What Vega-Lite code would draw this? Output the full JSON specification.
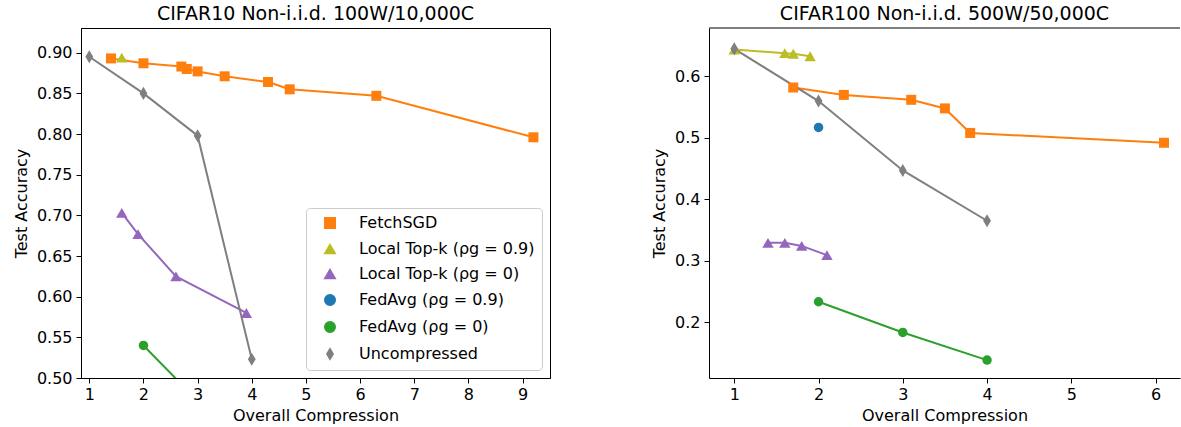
{
  "$schema": "https://vega.github.io/schema/vega-lite/v6.json",
  "background": "white",
  "padding": {"left": 12, "top": 4, "right": 0, "bottom": 0},
  "config": {
    "font": "DejaVu Sans",
    "view": {"stroke": "black", "strokeWidth": 1},
    "axis": {
      "grid": false, "domainColor": "black", "tickColor": "black", "labelColor": "black", "titleColor": "black",
      "labelFontSize": 16, "titleFontSize": 16, "titleFontWeight": "normal", "tickSize": 5,
      "labelFont": "DejaVu Sans", "titleFont": "DejaVu Sans"
    },
    "axisX": {"labelPadding": 3, "titlePadding": 5},
    "axisY": {"labelPadding": 4, "titlePadding": 7},
    "title": {"fontSize": 19, "fontWeight": "normal", "font": "DejaVu Sans", "color": "black", "offset": 4},
    "concat": {"spacing": 100},
    "legend": {"title": null, "orient": "bottom-right", "offset": 8, "padding": 7,
               "strokeColor": "#cccccc", "fillColor": "white", "cornerRadius": 4,
               "labelFontSize": 16, "labelFont": "DejaVu Sans", "labelColor": "black", "labelLimit": 400,
               "symbolSize": 110, "rowPadding": 9, "labelOffset": 21, "symbolOffset": 9}
  },
  "datasets": {
    "left": [
      {"series": "FetchSGD", "x": 1.4, "y": 0.893},
      {"series": "FetchSGD", "x": 2.0, "y": 0.887},
      {"series": "FetchSGD", "x": 2.7, "y": 0.883},
      {"series": "FetchSGD", "x": 2.8, "y": 0.880},
      {"series": "FetchSGD", "x": 3.0, "y": 0.877},
      {"series": "FetchSGD", "x": 3.5, "y": 0.871},
      {"series": "FetchSGD", "x": 4.3, "y": 0.864},
      {"series": "FetchSGD", "x": 4.7, "y": 0.855},
      {"series": "FetchSGD", "x": 6.3, "y": 0.847},
      {"series": "FetchSGD", "x": 9.2, "y": 0.796},
      {"series": "Local Top-k (ρg = 0.9)", "x": 1.6, "y": 0.894},
      {"series": "Local Top-k (ρg = 0)", "x": 1.6, "y": 0.703},
      {"series": "Local Top-k (ρg = 0)", "x": 1.9, "y": 0.677},
      {"series": "Local Top-k (ρg = 0)", "x": 2.6, "y": 0.625},
      {"series": "Local Top-k (ρg = 0)", "x": 3.9, "y": 0.580},
      {"series": "FedAvg (ρg = 0)", "x": 2.0, "y": 0.540},
      {"series": "FedAvg (ρg = 0)", "x": 3.0, "y": 0.472},
      {"series": "Uncompressed", "x": 1.0, "y": 0.895},
      {"series": "Uncompressed", "x": 2.0, "y": 0.850},
      {"series": "Uncompressed", "x": 3.0, "y": 0.798},
      {"series": "Uncompressed", "x": 4.0, "y": 0.523}
    ],
    "right": [
      {"series": "FetchSGD", "x": 1.7, "y": 0.582},
      {"series": "FetchSGD", "x": 2.3, "y": 0.570},
      {"series": "FetchSGD", "x": 3.1, "y": 0.562},
      {"series": "FetchSGD", "x": 3.5, "y": 0.548},
      {"series": "FetchSGD", "x": 3.8, "y": 0.508},
      {"series": "FetchSGD", "x": 6.1, "y": 0.492},
      {"series": "Local Top-k (ρg = 0.9)", "x": 1.0, "y": 0.644},
      {"series": "Local Top-k (ρg = 0.9)", "x": 1.6, "y": 0.638},
      {"series": "Local Top-k (ρg = 0.9)", "x": 1.7, "y": 0.637},
      {"series": "Local Top-k (ρg = 0.9)", "x": 1.9, "y": 0.633},
      {"series": "Local Top-k (ρg = 0)", "x": 1.4, "y": 0.329},
      {"series": "Local Top-k (ρg = 0)", "x": 1.6, "y": 0.329},
      {"series": "Local Top-k (ρg = 0)", "x": 1.8, "y": 0.324},
      {"series": "Local Top-k (ρg = 0)", "x": 2.1, "y": 0.309},
      {"series": "FedAvg (ρg = 0.9)", "x": 2.0, "y": 0.517},
      {"series": "FedAvg (ρg = 0)", "x": 2.0, "y": 0.233},
      {"series": "FedAvg (ρg = 0)", "x": 3.0, "y": 0.183},
      {"series": "FedAvg (ρg = 0)", "x": 4.0, "y": 0.138},
      {"series": "Uncompressed", "x": 1.0, "y": 0.645},
      {"series": "Uncompressed", "x": 2.0, "y": 0.560},
      {"series": "Uncompressed", "x": 3.0, "y": 0.447},
      {"series": "Uncompressed", "x": 4.0, "y": 0.365}
    ],
    "frame": [{"top": 0.679}]
  },
  "resolve": {
    "scale": {"color": "independent", "shape": "independent"},
    "legend": {"color": "independent", "shape": "independent"}
  },
  "hconcat": [
    {
      "width": 469,
      "height": 350,
      "title": "CIFAR10 Non-i.i.d. 100W/10,000C",
      "data": {"name": "left"},
      "encoding": {
        "x": {"field": "x", "type": "quantitative",
              "scale": {"domain": [0.847, 9.506], "nice": false, "zero": false},
              "axis": {"values": [1, 2, 3, 4, 5, 6, 7, 8, 9], "title": "Overall Compression", "format": "d"}},
        "y": {"field": "y", "type": "quantitative",
              "scale": {"domain": [0.5, 0.9304], "nice": false, "zero": false},
              "axis": {"values": [0.5, 0.55, 0.6, 0.65, 0.7, 0.75, 0.8, 0.85, 0.9], "title": "Test Accuracy", "format": ".2f"}},
        "color": {"field": "series", "type": "nominal",
          "scale": {"domain": ["FetchSGD", "Local Top-k (ρg = 0.9)", "Local Top-k (ρg = 0)", "FedAvg (ρg = 0.9)", "FedAvg (ρg = 0)", "Uncompressed"],
                    "range": ["#ff7f0e", "#bcbd22", "#9467bd", "#1f77b4", "#2ca02c", "#7f7f7f"]}},
        "shape": {"field": "series", "type": "nominal",
          "scale": {"domain": ["FetchSGD", "Local Top-k (ρg = 0.9)", "Local Top-k (ρg = 0)", "FedAvg (ρg = 0.9)", "FedAvg (ρg = 0)", "Uncompressed"],
                    "range": ["square", "triangle-up", "triangle-up", "circle", "circle", "M0,-1L0.6,0L0,1L-0.6,0Z"]}}
      },
      "layer": [
        {"mark": {"type": "line", "strokeWidth": 2, "clip": true}, "encoding": {"shape": null}},
        {"transform": [{"filter": "datum.series === 'FetchSGD'"}],
         "mark": {"type": "point", "filled": true, "opacity": 1, "size": 100, "clip": true}},
        {"transform": [{"filter": "indexof(datum.series, 'Local') === 0"}],
         "mark": {"type": "point", "filled": true, "opacity": 1, "size": 130, "clip": true}},
        {"transform": [{"filter": "indexof(datum.series, 'FedAvg') === 0"}],
         "mark": {"type": "point", "filled": true, "opacity": 1, "size": 90, "clip": true}},
        {"transform": [{"filter": "datum.series === 'Uncompressed'"}],
         "mark": {"type": "point", "filled": true, "opacity": 1, "size": 170, "clip": true}}
      ]
    },
    {
      "width": 471,
      "height": 350,
      "title": "CIFAR100 Non-i.i.d. 500W/50,000C",
      "view": {"stroke": null},
      "data": {"name": "right"},
      "encoding": {
        "x": {"field": "x", "type": "quantitative",
              "scale": {"domain": [0.7, 6.29], "nice": false, "zero": false},
              "axis": {"values": [1, 2, 3, 4, 5, 6], "title": "Overall Compression", "format": "d"}},
        "y": {"field": "y", "type": "quantitative",
              "scale": {"domain": [0.1088, 0.679], "nice": false, "zero": false},
              "axis": {"values": [0.2, 0.3, 0.4, 0.5, 0.6], "title": "Test Accuracy", "format": ".1f"}},
        "color": {"field": "series", "type": "nominal", "legend": null,
          "scale": {"domain": ["FetchSGD", "Local Top-k (ρg = 0.9)", "Local Top-k (ρg = 0)", "FedAvg (ρg = 0.9)", "FedAvg (ρg = 0)", "Uncompressed"],
                    "range": ["#ff7f0e", "#bcbd22", "#9467bd", "#1f77b4", "#2ca02c", "#7f7f7f"]}},
        "shape": {"field": "series", "type": "nominal", "legend": null,
          "scale": {"domain": ["FetchSGD", "Local Top-k (ρg = 0.9)", "Local Top-k (ρg = 0)", "FedAvg (ρg = 0.9)", "FedAvg (ρg = 0)", "Uncompressed"],
                    "range": ["square", "triangle-up", "triangle-up", "circle", "circle", "M0,-1L0.6,0L0,1L-0.6,0Z"]}}
      },
      "layer": [
        {
          "data": {"name": "frame"},
          "mark": {"type": "rule", "color": "black", "strokeWidth": 1},
          "encoding": {"y": {"field": "top", "type": "quantitative"}, "x": null, "color": null, "shape": null}
        },
        {"mark": {"type": "line", "strokeWidth": 2, "clip": true}, "encoding": {"shape": null}},
        {"transform": [{"filter": "datum.series === 'FetchSGD'"}],
         "mark": {"type": "point", "filled": true, "opacity": 1, "size": 100, "clip": true}},
        {"transform": [{"filter": "indexof(datum.series, 'Local') === 0"}],
         "mark": {"type": "point", "filled": true, "opacity": 1, "size": 130, "clip": true}},
        {"transform": [{"filter": "indexof(datum.series, 'FedAvg') === 0"}],
         "mark": {"type": "point", "filled": true, "opacity": 1, "size": 90, "clip": true}},
        {"transform": [{"filter": "datum.series === 'Uncompressed'"}],
         "mark": {"type": "point", "filled": true, "opacity": 1, "size": 170, "clip": true}}
      ]
    }
  ]
}
